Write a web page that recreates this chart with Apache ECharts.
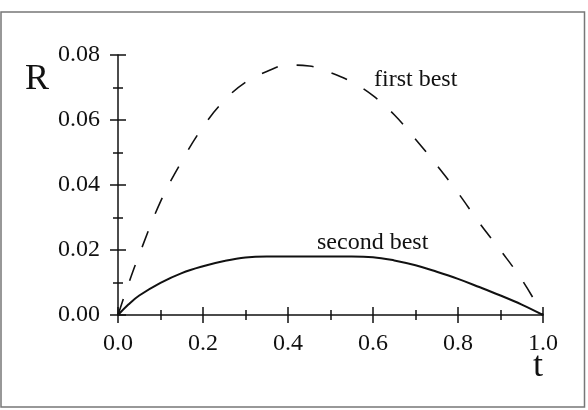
<!DOCTYPE html>
<html>
<head>
<meta charset="utf-8">
<script src="https://cdn.jsdelivr.net/npm/echarts@6/dist/echarts.min.js"></script>
<style>
  html, body { margin: 0; padding: 0; background: #fff; }
  #chart { width: 588px; height: 410px; }
</style>
</head>
<body>
<div id="chart"></div>
<script>
// values
var tValues = [0, 0.025, 0.05, 0.1, 0.15, 0.2, 0.25, 0.3, 0.35, 0.4, 0.45, 0.5,
               0.55, 0.6, 0.65, 0.7, 0.75, 0.8, 0.85, 0.9, 0.95, 1];
var firstBest = [0, 0.0097, 0.0186, 0.0349, 0.0473, 0.0579, 0.066, 0.0716, 0.0749, 0.0769, 0.0766, 0.0746,
                 0.0717, 0.0675, 0.0616, 0.0541, 0.0461, 0.0376, 0.0284, 0.0199, 0.0109, 0];
var secondBest = [0, 0.0033, 0.006, 0.0099, 0.0129, 0.015, 0.0166, 0.0177, 0.018, 0.018, 0.018, 0.018,
                  0.018, 0.0178, 0.0168, 0.0153, 0.0133, 0.0111, 0.0086, 0.006, 0.0032, 0];
var seriesNames = ['first best', 'second best'];

var serif = '"Liberation Serif", "DejaVu Serif", serif';
var ink = '#111';

function pairs(vals) {
    return tValues.map(function (t, i) { return [t, vals[i]]; });
}

// two copies of each axis, one with ticks out and one with ticks in,
// so the ticks cross the axis line like in the picture
function xAxisDef(inside) {
    return {
        type: 'value', min: 0, max: 1, interval: 0.2, position: 'bottom',
        axisLine: { show: !inside, onZero: false, lineStyle: { color: ink, width: 1.5 } },
        axisTick: { show: true, inside: inside, length: 8, lineStyle: { color: ink, width: 1.5 } },
        minorTick: { show: true, splitNumber: 2, length: 5, lineStyle: { color: ink, width: 1.5 } },
        axisLabel: {
            show: !inside, margin: 17, color: ink, fontFamily: serif, fontSize: 24,
            formatter: function (v) { return v.toFixed(1); }
        },
        splitLine: { show: false }
    };
}
function yAxisDef(inside) {
    return {
        type: 'value', min: 0, max: 0.08, interval: 0.02, position: 'left',
        axisLine: { show: !inside, onZero: false, lineStyle: { color: ink, width: 1.5 } },
        axisTick: { show: true, inside: inside, length: 8, lineStyle: { color: ink, width: 1.5 } },
        minorTick: { show: true, splitNumber: 2, length: 5, lineStyle: { color: ink, width: 1.5 } },
        axisLabel: {
            show: !inside, margin: 18, color: ink, fontFamily: serif, fontSize: 24,
            formatter: function (v) { return v.toFixed(2); }
        },
        splitLine: { show: false }
    };
}

var myChart = echarts.init(document.getElementById('chart'));
var option = {
    animation: false,
    backgroundColor: '#fff',
    grid: { left: 118, right: 45, top: 55, bottom: 95 },
    xAxis: [xAxisDef(false), xAxisDef(true)],
    yAxis: [yAxisDef(false), yAxisDef(true)],
    series: [
        {
            name: seriesNames[0], type: 'line', xAxisIndex: 0, yAxisIndex: 0,
            data: pairs(firstBest), smooth: 0.4, showSymbol: false,
            lineStyle: { color: ink, width: 1.6, type: [17, 19] }
        },
        {
            name: seriesNames[1], type: 'line', xAxisIndex: 0, yAxisIndex: 0,
            data: pairs(secondBest), smooth: 0.4, showSymbol: false,
            lineStyle: { color: ink, width: 2 }
        }
    ],
    graphic: [
        {
            type: 'rect', silent: true, z: -1,
            shape: { x: 1, y: 12, width: 583.5, height: 395 },
            style: { fill: 'none', stroke: '#777', lineWidth: 1.5 }
        },
        { type: 'text', left: 25, top: 62, style: { text: 'R', font: '36px ' + serif, fill: ink } },
        { type: 'text', left: 533, top: 349, style: { text: 't', font: '36px ' + serif, fill: ink } },
        { type: 'text', left: 374, top: 68, style: { text: seriesNames[0], font: '24px ' + serif, fill: ink } },
        { type: 'text', left: 317, top: 231, style: { text: seriesNames[1], font: '24px ' + serif, fill: ink } }
    ]
};
myChart.setOption(option);
window.addEventListener('resize', function () {
    myChart.resize();
});
</script>
</body>
</html>
